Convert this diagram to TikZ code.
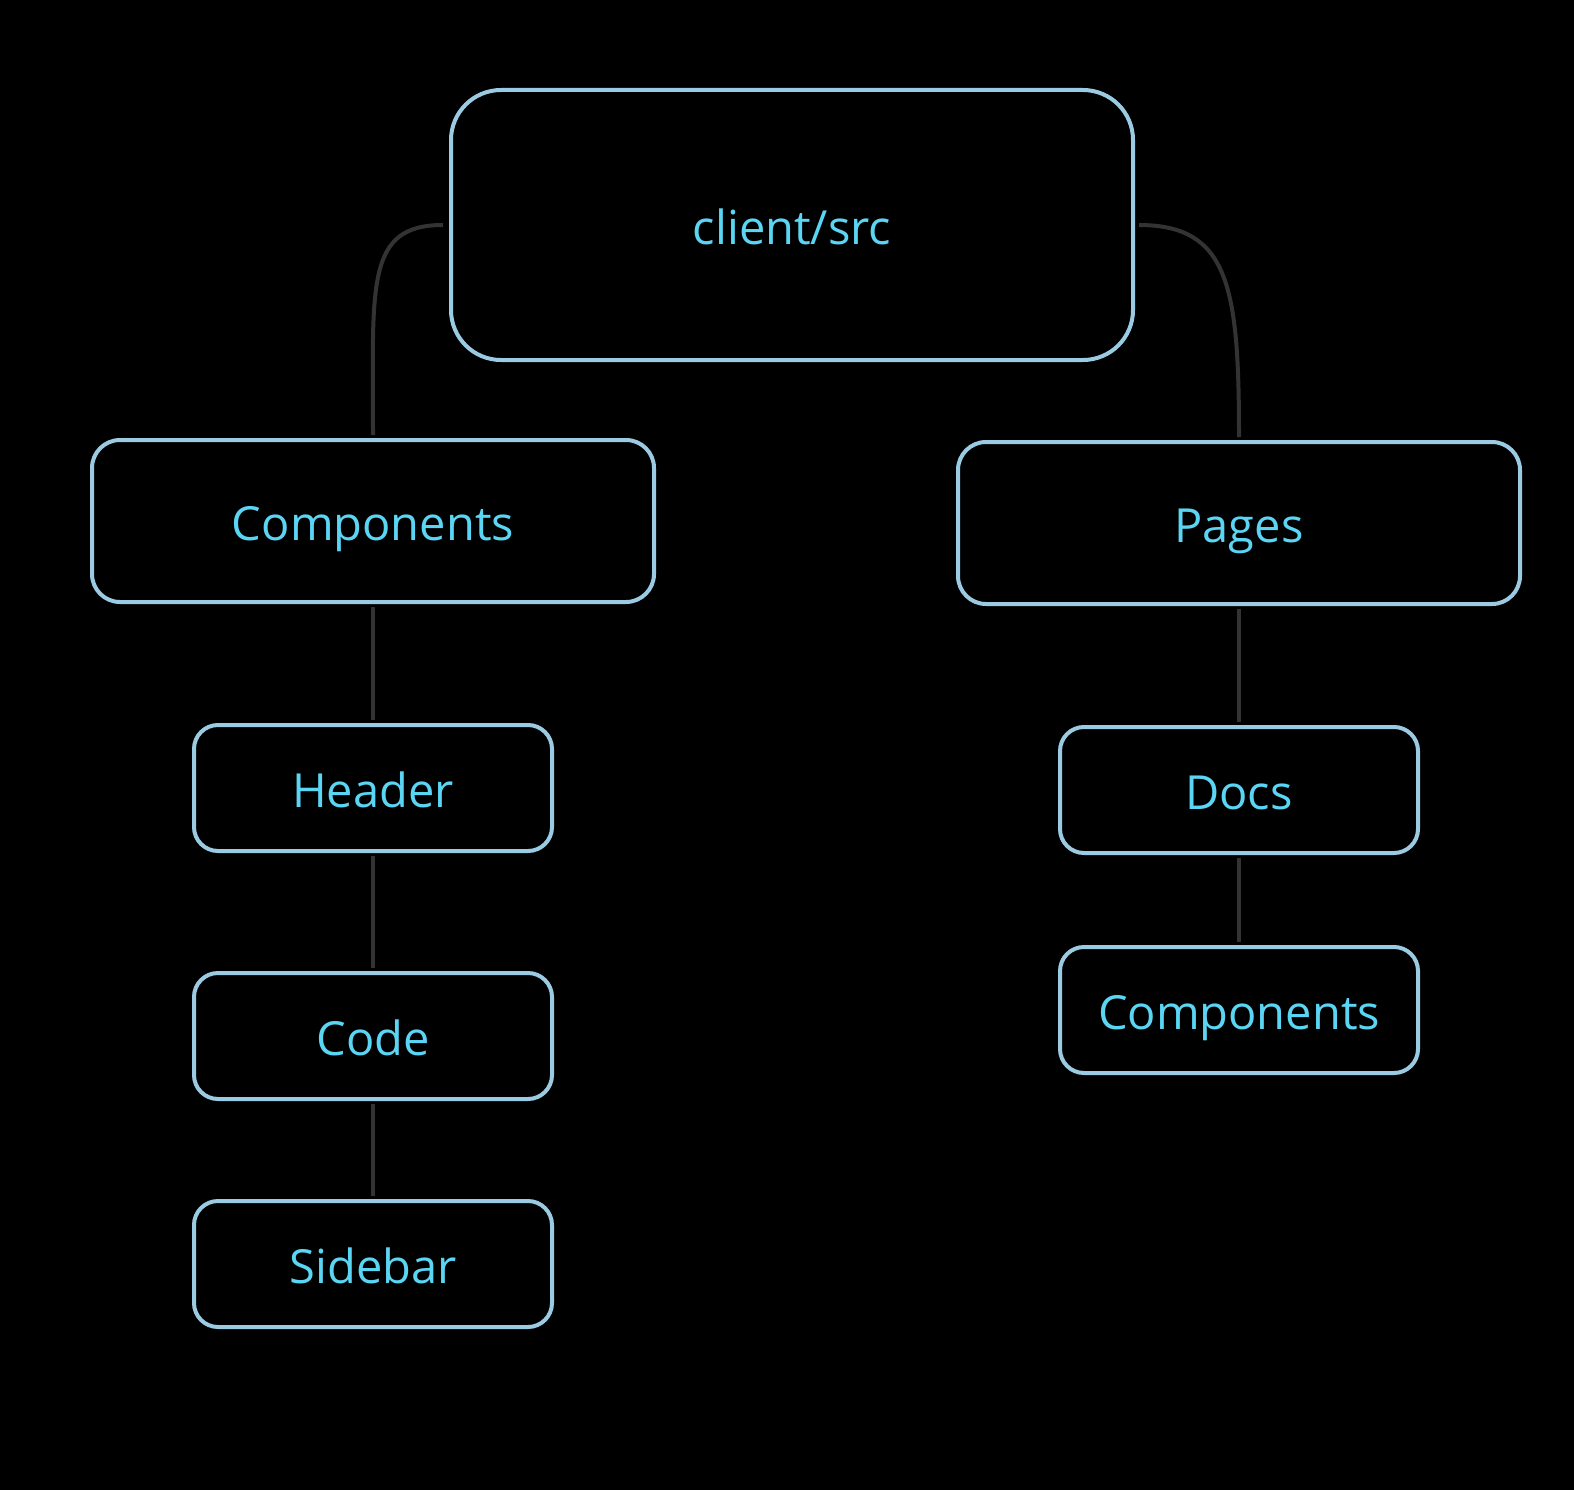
\documentclass[tikz,border=0pt]{standalone}
\usepackage{fontspec}
\setmainfont{Open Sans}
\usepackage{tikz}
\usetikzlibrary{positioning}
\definecolor{boxline}{HTML}{9ACBE3}
\definecolor{boxtext}{HTML}{5AD6F4}
\definecolor{linkgray}{HTML}{333333}

\begin{document}
\begin{tikzpicture}[
                x=1pt, y=-1pt,
                dirbox/.style={draw=boxline, line width=4pt, rectangle, rounded corners=28pt, fill=black, text=boxtext, text height=38pt, text depth=0pt, font=\fontsize{47}{56}\selectfont},
                rootbox/.style={dirbox, rounded corners=50pt, minimum width=682pt, minimum height=270pt},
                bigbox/.style={dirbox, minimum width=562pt, minimum height=162pt},
                smallbox/.style={dirbox, rounded corners=24pt, minimum width=358pt, minimum height=126pt},
                link/.style={draw=linkgray, line width=4pt}
            ]
            \fill[black] (0,0) rectangle (1574,1490);
            \useasboundingbox (0,0) rectangle (1574,1490);

            % nodes
            \node[rootbox] (src) at (792,225) {client/src};
            \node[bigbox] (comp) at (373,521) {Components};
            \node[bigbox] (pages) at (1239,523) {Pages};
            \node[smallbox, below=119pt of comp] (header) {Header};
            \node[smallbox, below=118pt of header] (code) {Code};
            \node[smallbox, below=98pt of code] (sidebar) {Sidebar};
            \node[smallbox, below=119pt of pages] (docs) {Docs};
            \node[smallbox, below=90pt of docs] (subcomp) {Components};

            % links
            \draw[link] ([xshift=-6pt]src.west) .. controls +(-78,0) and +(0,-150) .. ([yshift=3pt]comp.north);
            \draw[link] ([xshift=4pt]src.east) .. controls +(90,0) and +(0,-150) .. ([yshift=3pt]pages.north);
            \draw[link] ([yshift=-3pt]comp.south) -- ([yshift=3pt]header.north);
            \draw[link] ([yshift=-3pt]header.south) -- ([yshift=3pt]code.north);
            \draw[link] ([yshift=-3pt]code.south) -- ([yshift=3pt]sidebar.north);
            \draw[link] ([yshift=-3pt]pages.south) -- ([yshift=3pt]docs.north);
            \draw[link] ([yshift=-3pt]docs.south) -- ([yshift=3pt]subcomp.north);

\end{tikzpicture}
\end{document}
